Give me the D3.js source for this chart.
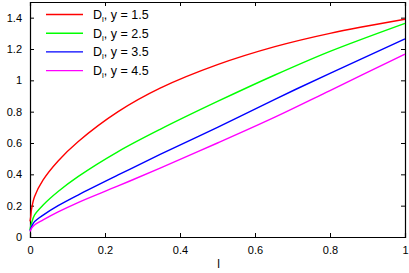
<!DOCTYPE html>
<html>
<head>
<meta charset="utf-8">
<script src="https://cdn.jsdelivr.net/npm/d3@7"></script>
<style>
  body { margin: 0; background: #fff; }
  text { font-family: "Liberation Sans", Arial, sans-serif; }
</style>
</head>
<body>
<script>
// x positions shared by all curves
const xs = [0, 0.002, 0.004, 0.012, 0.035, 0.075, 0.128, 0.235, 0.347, 0.5, 0.653, 0.8, 1.0];

// D_l values, one array per y
const d15 = [0.1, 0.13, 0.175, 0.257, 0.364, 0.485, 0.608, 0.8, 0.95, 1.1, 1.215, 1.3, 1.39];
const d25 = [0.045, 0.07, 0.087, 0.14, 0.204, 0.29, 0.385, 0.545, 0.687, 0.865, 1.034, 1.185, 1.364];
const d35 = [0.04, 0.055, 0.066, 0.098, 0.14, 0.2, 0.268, 0.396, 0.527, 0.7, 0.879, 1.045, 1.264];
const d45 = [0.035, 0.045, 0.055, 0.077, 0.109, 0.16, 0.22, 0.326, 0.44, 0.6, 0.765, 0.935, 1.168];

const seriesNames = ["y = 1.5", "y = 2.5", "y = 3.5", "y = 4.5"];
const seriesColors = ["#ff0000", "#00ff00", "#0000ff", "#ff00ff"];
const seriesValues = [d15, d25, d35, d45];

const xTicks = [0, 0.2, 0.4, 0.6, 0.8, 1];
const yTicks = [0, 0.2, 0.4, 0.6, 0.8, 1, 1.2, 1.4];

const width = 409, height = 273;
const margin = { top: 2, right: 4, bottom: 36, left: 30 };
const innerW = width - margin.left - margin.right;
const innerH = height - margin.top - margin.bottom;

const svg = d3.select('body')
  .append('svg')
  .attr('width', width)
  .attr('height', height);

const g = svg.append('g')
  .attr('transform', `translate(${margin.left},${margin.top})`);

const x = d3.scaleLinear().domain([0, 1]).range([0, innerW]);
const y = d3.scaleLinear().domain([0, 1.5]).range([innerH, 0]);

// axes with inward ticks, mirrored on top and right
const fmt = d => String(d);
g.append('g')
  .attr('transform', `translate(0,${innerH})`)
  .call(d3.axisBottom(x).tickValues(xTicks).tickSize(-4).tickPadding(9).tickFormat(fmt));
g.append('g')
  .call(d3.axisTop(x).tickValues(xTicks).tickSize(-4).tickFormat(''));
g.append('g')
  .call(d3.axisLeft(y).tickValues(yTicks).tickSize(-4).tickPadding(8).tickFormat(fmt));
g.append('g')
  .attr('transform', `translate(${innerW},0)`)
  .call(d3.axisRight(y).tickValues(yTicks).tickSize(-4).tickFormat(''));

g.selectAll('.domain').attr('stroke', '#000').attr('stroke-width', 1.2);
g.selectAll('.tick line').attr('stroke', '#000');
g.selectAll('.tick text').attr('font-size', 11).attr('fill', '#000')
  .attr('font-family', '"Liberation Sans", Arial, sans-serif');

// curves
const line = d3.line()
  .x((d, i) => x(xs[i]))
  .y(d => y(d))
  .curve(d3.curveCatmullRom.alpha(0.5));

seriesValues.forEach((vals, k) => {
  g.append('path')
    .datum(vals)
    .attr('fill', 'none')
    .attr('stroke', seriesColors[k])
    .attr('stroke-width', 1.4)
    .attr('d', line);
});

// legend
const legend = g.append('g').attr('transform', 'translate(16,12.5)');
seriesNames.forEach((name, k) => {
  const row = legend.append('g').attr('transform', `translate(0,${k * 18.7})`);
  row.append('line')
    .attr('x1', 0).attr('x2', 37)
    .attr('stroke', seriesColors[k])
    .attr('stroke-width', 1.4);
  const t = row.append('text')
    .attr('x', 47).attr('y', 4.5)
    .attr('font-size', 12.5);
  t.append('tspan').text('D');
  t.append('tspan').attr('font-size', 8).attr('dy', 3).text('l');
  t.append('tspan').attr('dy', -3).text(', ' + name);
});

// axis label
svg.append('text')
  .attr('x', margin.left + innerW / 2 + 1)
  .attr('y', 268)
  .attr('text-anchor', 'middle')
  .attr('font-size', 12)
  .text('l');
</script>
</body>
</html>
